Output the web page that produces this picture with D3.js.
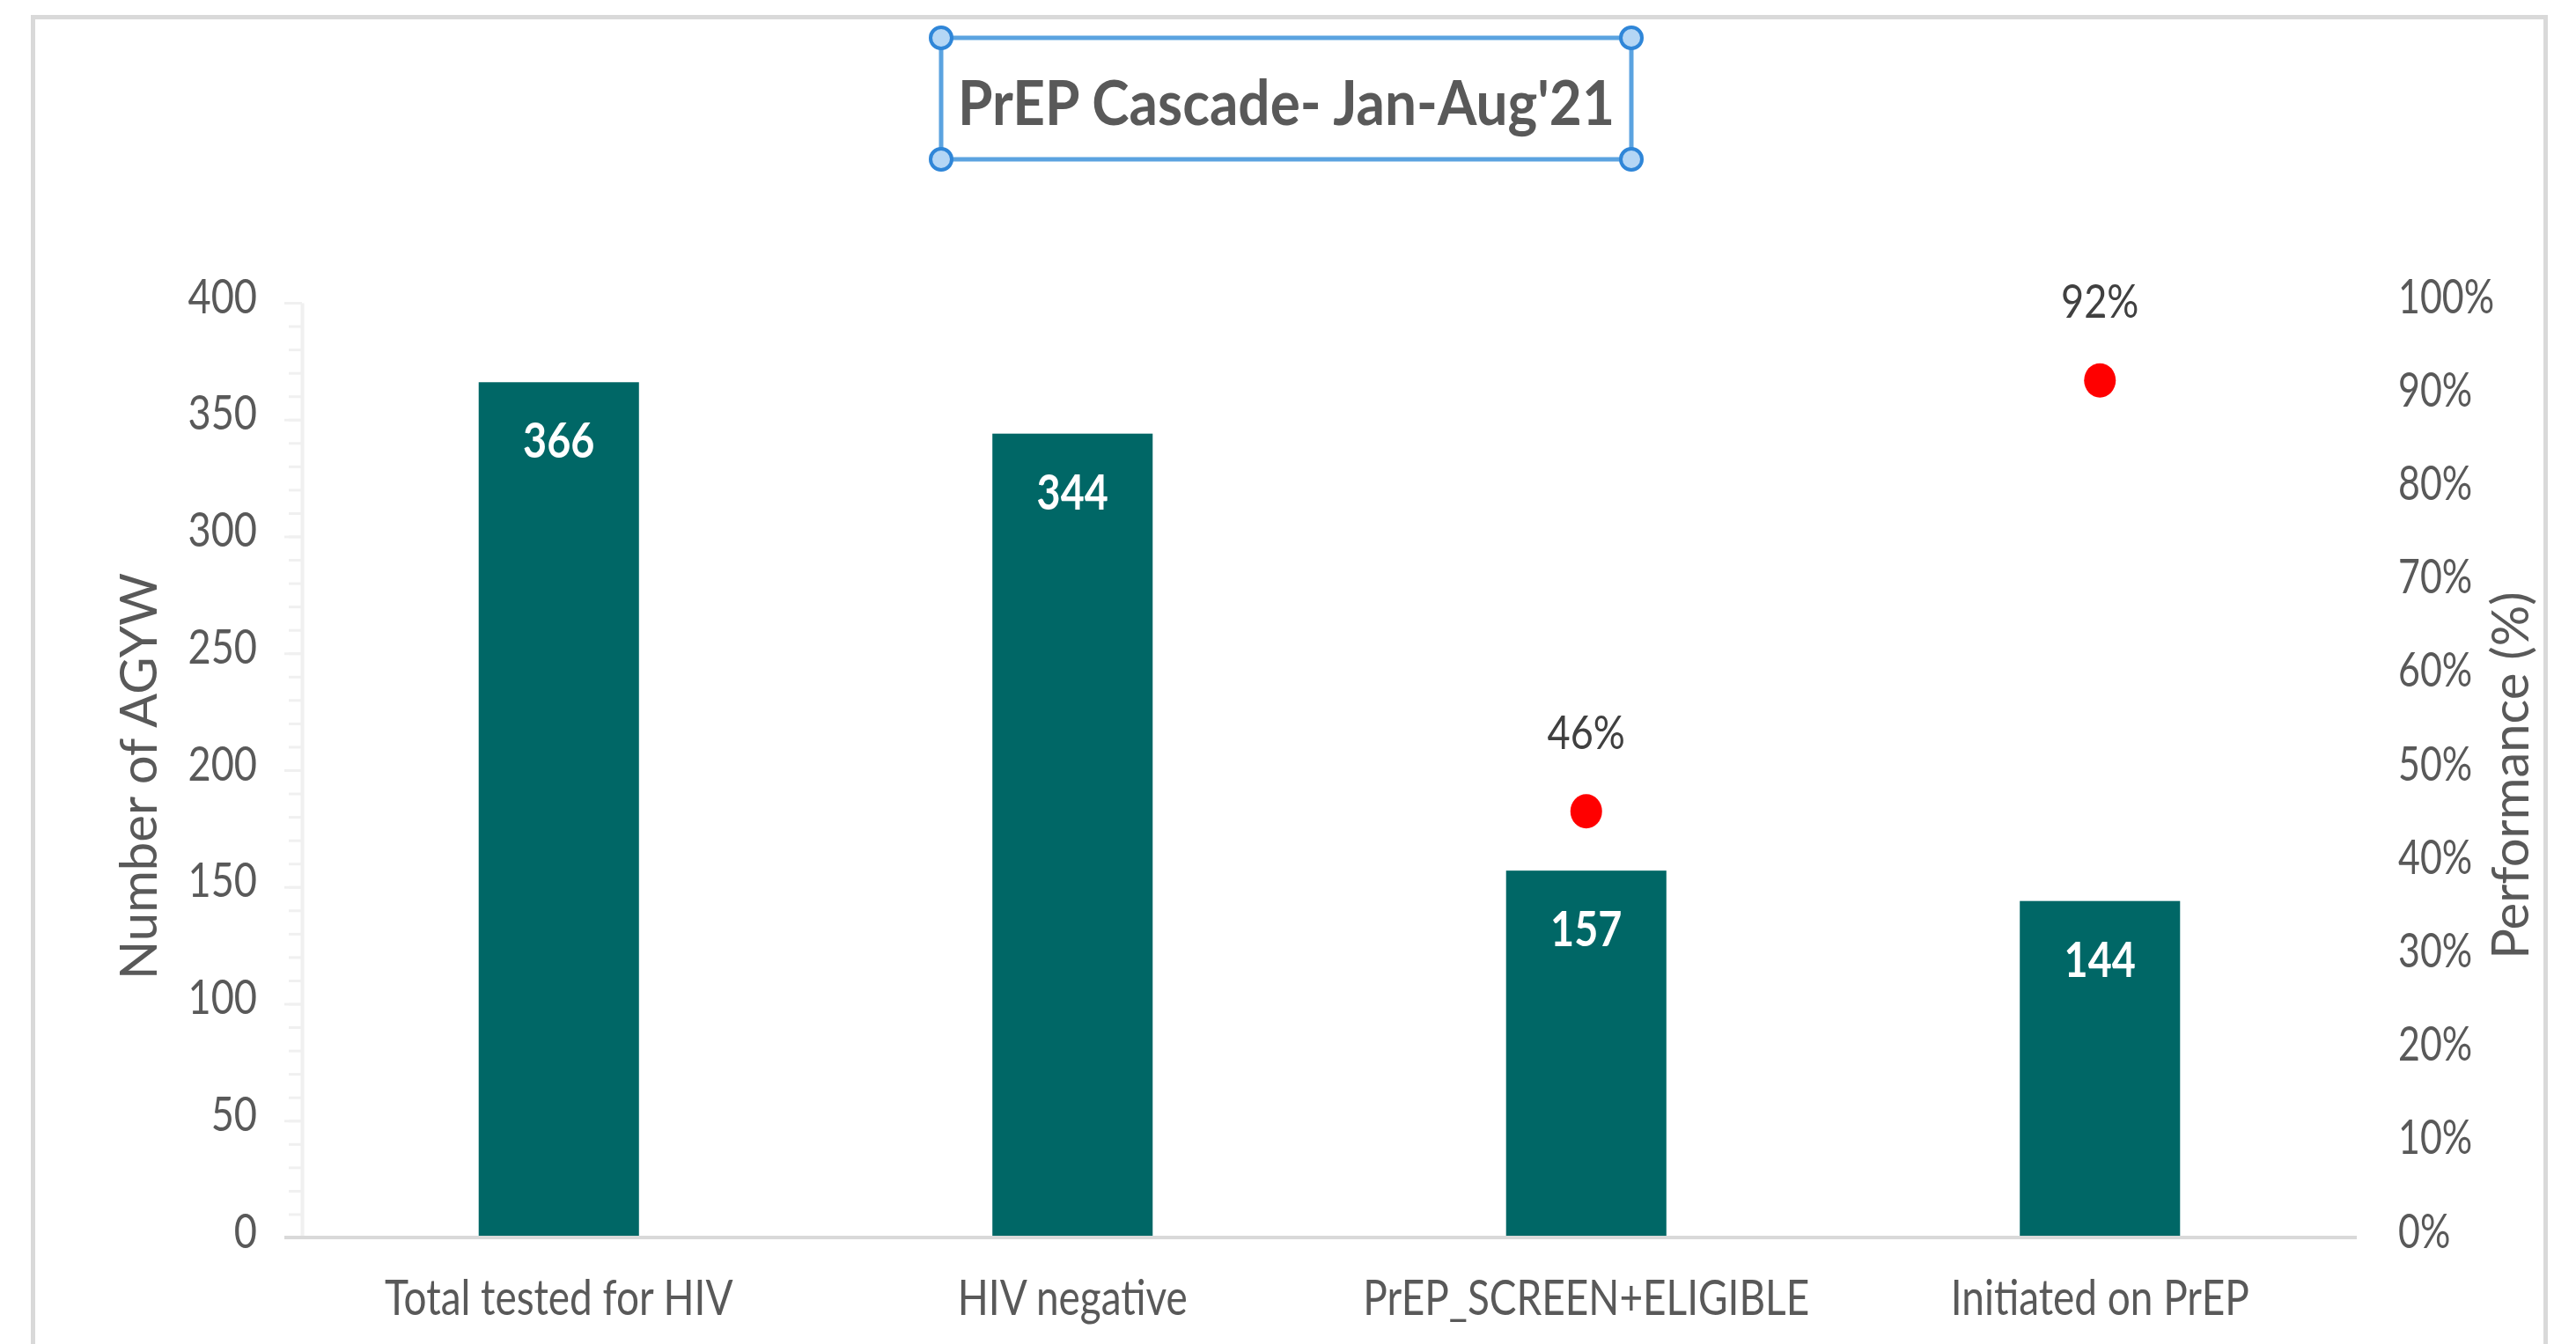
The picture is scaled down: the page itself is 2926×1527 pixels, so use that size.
<!DOCTYPE html>
<html>
<head>
<meta charset="utf-8">
<script src="https://cdn.jsdelivr.net/npm/d3@7"></script>
<style>
  body { margin: 0; background: #fff; }
  text { font-family: Lato, "Liberation Sans", Arial, sans-serif; }
  .tick line { stroke: #f0f0f0; stroke-width: 3; }
  .tick text { fill: #595959; }
</style>
</head>
<body>
<script>
// PrEP cascade chart, bars on left axis and performance dots on right axis

//chart data
var categories = ["Total tested for HIV", "HIV negative", "PrEP_SCREEN+ELIGIBLE", "Initiated on PrEP"];
var counts = [366, 344, 157, 144];
var performance = [null, null, 0.456, 0.917];
var perfLabels = [null, null, "46%", "92%"];
var leftTicks = [0, 50, 100, 150, 200, 250, 300, 350, 400];
var minorTicks = [0, 10, 20, 30, 40, 50, 60, 70, 80, 90, 100, 110, 120, 130, 140, 150, 160, 170, 180, 190,
                  200, 210, 220, 230, 240, 250, 260, 270, 280, 290, 300, 310, 320, 330, 340, 350, 360, 370, 380, 390, 400];
var rightTicks = [0, 0.1, 0.2, 0.3, 0.4, 0.5, 0.6, 0.7, 0.8, 0.9, 1];
var title = "PrEP Cascade- Jan-Aug'21";

(function(){
    var width = 2926, height = 1527;
    var plotLeft = 343, plotRight = 2677, plotTop = 344, plotBottom = 1406;

    var svg = d3.select("body").append("svg")
        .attr("width", width)
        .attr("height", height);

    //squeeze text horizontally to mimic the narrow original font
    function condense(k){
        return function(){
            var len = this.getComputedTextLength();
            d3.select(this).attr("textLength", len * k).attr("lengthAdjust", "spacingAndGlyphs");
        };
    }

    //outer chart border
    svg.append("rect")
        .attr("x", 37.5).attr("y", 19.5)
        .attr("width", 2854).attr("height", 1560)
        .attr("fill", "none")
        .attr("stroke", "#d9d9d9")
        .attr("stroke-width", 5);

    //scales
    var x = d3.scaleBand()
        .domain(categories)
        .range([plotLeft, plotRight])
        .paddingInner(0.688)
        .paddingOuter(0.344);

    var yL = d3.scaleLinear().domain([0, 400]).range([plotBottom, plotTop]);
    var yR = d3.scaleLinear().domain([0, 1]).range([plotBottom, plotTop]);

    //minor ticks on left axis
    svg.append("g")
        .attr("class", "minor")
        .attr("transform", "translate(" + plotLeft + ",0)")
        .call(d3.axisLeft(yL).tickValues(minorTicks).tickSize(15).tickFormat(""))
        .call(function(g){ g.select(".domain").remove(); });

    //left axis
    var leftAxis = svg.append("g")
        .attr("transform", "translate(" + plotLeft + ",0)")
        .call(d3.axisLeft(yL).tickValues(leftTicks).tickSize(20).tickPadding(31).tickSizeOuter(0));
    leftAxis.select(".domain")
        .attr("stroke", "#f0f0f0")
        .attr("stroke-width", 4);
    leftAxis.selectAll(".tick text")
        .attr("dy", "0.2em")
        .style("font-size", "55px")
        .each(condense(0.82));

    //right axis (labels only)
    var rightAxis = svg.append("g")
        .attr("transform", "translate(" + plotRight + ",0)")
        .call(d3.axisRight(yR).tickValues(rightTicks).tickSize(0).tickPadding(47).tickFormat(d3.format(".0%")));
    rightAxis.select(".domain").remove();
    rightAxis.selectAll(".tick text")
        .attr("dy", "0.2em")
        .style("font-size", "55px")
        .each(condense(0.78));

    //bars
    svg.selectAll(".bar")
        .data(counts)
        .enter()
        .append("rect")
        .attr("class", "bar")
        .attr("x", function(d, i){ return x(categories[i]); })
        .attr("width", x.bandwidth())
        .attr("y", function(d){ return yL(d); })
        .attr("height", function(d){ return yL(0) - yL(d); })
        .attr("fill", "#006766");

    //bar value labels
    svg.selectAll(".barLabel")
        .data(counts)
        .enter()
        .append("text")
        .attr("class", "barLabel")
        .attr("x", function(d, i){ return x(categories[i]) + x.bandwidth() / 2; })
        .attr("y", function(d){ return yL(d) + 86; })
        .attr("text-anchor", "middle")
        .attr("fill", "#ffffff")
        .attr("font-weight", "bold")
        .attr("font-size", 55)
        .text(function(d){ return d; })
        .each(condense(0.85));

    //x axis baseline and category labels
    var xAxis = svg.append("g")
        .attr("transform", "translate(0," + plotBottom + ")")
        .call(d3.axisBottom(x).tickSize(0).tickSizeOuter(0));
    xAxis.select(".domain")
        .attr("d", "M" + (plotLeft - 20) + ",0H" + plotRight)
        .attr("stroke", "#d9d9d9")
        .attr("stroke-width", 4);
    xAxis.selectAll(".tick text")
        .attr("y", 88)
        .attr("dy", 0)
        .style("font-size", "56px")
        .each(condense(0.82));

    //performance dots
    var perfData = performance.map(function(d, i){ return {cat: categories[i], val: d, label: perfLabels[i]}; })
        .filter(function(d){ return d.val != null; });

    svg.selectAll(".dot")
        .data(perfData)
        .enter()
        .append("ellipse")
        .attr("class", "dot")
        .attr("cx", function(d){ return x(d.cat) + x.bandwidth() / 2; })
        .attr("cy", function(d){ return yR(d.val); })
        .attr("rx", 18)
        .attr("ry", 19.5)
        .attr("fill", "#ff0000");

    svg.selectAll(".perfLabel")
        .data(perfData)
        .enter()
        .append("text")
        .attr("class", "perfLabel")
        .attr("x", function(d){ return x(d.cat) + x.bandwidth() / 2; })
        .attr("y", function(d){ return yR(d.val) - 71; })
        .attr("text-anchor", "middle")
        .attr("fill", "#404040")
        .attr("font-size", 53)
        .text(function(d){ return d.label; })
        .each(condense(0.85));

    //axis titles
    svg.append("text")
        .attr("transform", "translate(158,882) rotate(-90)")
        .attr("text-anchor", "middle")
        .attr("dy", "0.35em")
        .attr("fill", "#595959")
        .attr("font-size", 58)
        .text("Number of AGYW");

    svg.append("text")
        .attr("transform", "translate(2852,881) rotate(-90)")
        .attr("text-anchor", "middle")
        .attr("dy", "0.35em")
        .attr("fill", "#595959")
        .attr("font-size", 58)
        .text("Performance (%)");

    //title with selection box
    var box = {x0: 1069, y0: 43, x1: 1853, y1: 181};
    svg.append("rect")
        .attr("x", box.x0).attr("y", box.y0)
        .attr("width", box.x1 - box.x0).attr("height", box.y1 - box.y0)
        .attr("fill", "none")
        .attr("stroke", "#5ba3e0")
        .attr("stroke-width", 5);

    svg.append("text")
        .attr("x", (box.x0 + box.x1) / 2)
        .attr("y", 142)
        .attr("text-anchor", "middle")
        .attr("fill", "#595959")
        .attr("font-weight", "bold")
        .attr("font-size", 70)
        .attr("textLength", 746)
        .attr("lengthAdjust", "spacingAndGlyphs")
        .text(title);

    var corners = [[box.x0, box.y0], [box.x1, box.y0], [box.x0, box.y1], [box.x1, box.y1]];
    svg.selectAll(".handle")
        .data(corners)
        .enter()
        .append("circle")
        .attr("class", "handle")
        .attr("cx", function(d){ return d[0]; })
        .attr("cy", function(d){ return d[1]; })
        .attr("r", 12)
        .attr("fill", "#b4d6f5")
        .attr("stroke", "#2f86d8")
        .attr("stroke-width", 4);
})();
</script>
</body>
</html>
